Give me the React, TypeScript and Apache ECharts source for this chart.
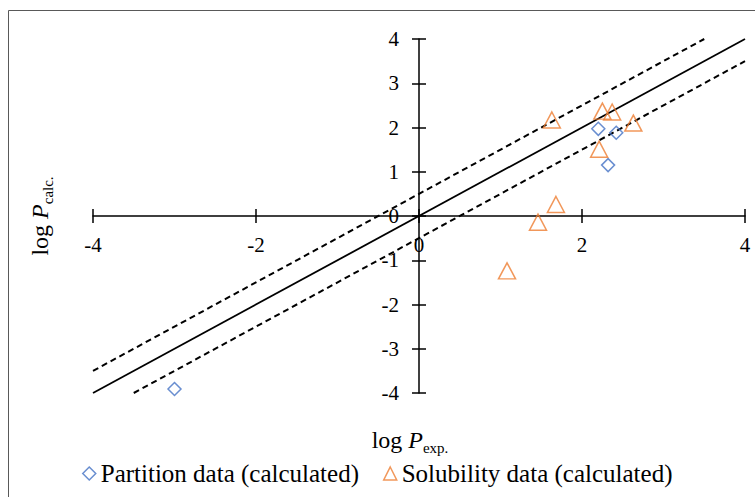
import React, { useEffect, useRef } from "react";
import * as echarts from "echarts";

// log P (exp., calc.) pairs
const partitionData: [number, number][] = [
  [-3.0, -3.91],
  [2.2, 1.97],
  [2.42, 1.88],
  [2.32, 1.15],
];
const solubilityData: [number, number][] = [
  [1.63, 2.17],
  [2.25, 2.37],
  [2.37, 2.35],
  [2.63, 2.1],
  [2.21, 1.51],
  [1.68, 0.26],
  [1.46, -0.14],
  [1.08, -1.24],
];
const identityLine: [number, number][] = [
  [-4, -4],
  [4, 4],
];
const upperLine: [number, number][] = [
  [-4, -3.5],
  [3.5, 4],
];
const lowerLine: [number, number][] = [
  [-3.5, -4],
  [4, 3.5],
];
const seriesNames = ["Partition data (calculated)", "Solubility data (calculated)"];

const FONT = "Liberation Serif";
const BLUE = "#4472C4";
const ORANGE = "#ED7D31";

// grid geometry
const GRID = { left: 93, right: 10, top: 39, bottom: 104 };
const W = 755;
const H = 497;
const plotW = W - GRID.left - GRID.right;
const plotH = H - GRID.top - GRID.bottom;
// axes cross at the origin (middle of the -4..4 ranges)
const xAxisShift = plotH / 2;
const yAxisShift = plotW / 2;

export default function App() {
  const ref = useRef<HTMLDivElement>(null);
  useEffect(() => {
    if (!ref.current) return;
    const chart = echarts.init(ref.current, undefined, { renderer: "svg" });
    const axisCommon = {
      type: "value" as const,
      min: -4,
      max: 4,
      splitLine: { show: false },
    };
    const lineStyleAxis = { color: "#000", width: 1.5 };
    const titleRich = {
      a: { fontSize: 24, fontFamily: FONT, lineHeight: 30, verticalAlign: "middle", fill: "#000" },
      b: { fontSize: 24, fontFamily: FONT, fontStyle: "italic", lineHeight: 30, verticalAlign: "middle", fill: "#000" },
      c: { fontSize: 15, fontFamily: FONT, lineHeight: 30, verticalAlign: "bottom", fill: "#000" },
    };
    chart.setOption({
      animation: false,
      backgroundColor: "#fff",
      grid: { ...GRID, containLabel: false },
      xAxis: [
        {
          ...axisCommon,
          interval: 2,
          position: "bottom",
          offset: -xAxisShift,
          axisLine: { show: true, onZero: false, lineStyle: lineStyleAxis },
          axisTick: { show: true, length: 7, lineStyle: lineStyleAxis },
          axisLabel: { color: "#000", fontSize: 21, fontFamily: FONT, margin: 18 },
        },
        {
          ...axisCommon,
          interval: 2,
          position: "top",
          offset: -xAxisShift,
          axisLine: { show: false, onZero: false },
          axisTick: { show: true, length: 7, lineStyle: lineStyleAxis },
          axisLabel: { show: false },
        },
      ],
      yAxis: [
        {
          ...axisCommon,
          interval: 1,
          position: "left",
          offset: -yAxisShift,
          axisLine: { show: true, onZero: false, lineStyle: lineStyleAxis },
          axisTick: { show: true, length: 7, lineStyle: lineStyleAxis },
          axisLabel: { color: "#000", fontSize: 21, fontFamily: FONT, margin: 20 },
        },
        {
          ...axisCommon,
          interval: 1,
          position: "right",
          offset: -yAxisShift,
          axisLine: { show: false, onZero: false },
          axisTick: { show: true, length: 7, lineStyle: lineStyleAxis },
          axisLabel: { show: false },
        },
      ],
      legend: {
        left: 82,
        top: 461,
        padding: 0,
        itemGap: 24,
        itemWidth: 13,
        itemHeight: 13,
        textStyle: { color: "#000", fontSize: 25, fontFamily: FONT },
        data: [
          {
            name: seriesNames[0],
            icon: "diamond",
            itemStyle: { color: "rgba(255,255,255,0)", borderColor: BLUE, borderWidth: 1.5 },
          },
          {
            name: seriesNames[1],
            icon: "triangle",
            itemStyle: { color: "rgba(255,255,255,0)", borderColor: ORANGE, borderWidth: 1.5 },
          },
        ],
      },
      graphic: [
        {
          type: "rect",
          shape: { x: 8.5, y: 10.5, width: 800, height: 520 },
          style: { fill: "none", stroke: "#595959", lineWidth: 1 },
          silent: true,
        },
        {
          type: "text",
          x: 410,
          y: 440,
          style: {
            text: "{a|log }{b|P}{c|exp.}",
            align: "center",
            verticalAlign: "middle",
            fill: "#000",
            rich: titleRich,
          },
        },
        {
          type: "text",
          x: 40,
          y: 216,
          rotation: Math.PI / 2,
          style: {
            text: "{a|log }{b|P}{c|calc.}",
            align: "center",
            verticalAlign: "middle",
            fill: "#000",
            rich: titleRich,
          },
        },
      ],
      series: [
        {
          name: "y = x",
          type: "line",
          data: identityLine,
          showSymbol: false,
          silent: true,
          lineStyle: { color: "#000", width: 1.8 },
          z: 1,
        },
        {
          name: "upper",
          type: "line",
          data: upperLine,
          showSymbol: false,
          silent: true,
          lineStyle: { color: "#000", width: 2, type: [6, 4] },
          z: 1,
        },
        {
          name: "lower",
          type: "line",
          data: lowerLine,
          showSymbol: false,
          silent: true,
          lineStyle: { color: "#000", width: 2, type: [6, 4] },
          z: 1,
        },
        {
          name: seriesNames[0],
          type: "scatter",
          data: partitionData,
          symbol: "diamond",
          symbolSize: 13,
          itemStyle: { color: "rgba(255,255,255,0)", borderColor: BLUE, borderWidth: 1.5 },
          z: 3,
        },
        {
          name: seriesNames[1],
          type: "scatter",
          data: solubilityData,
          symbol: "triangle",
          symbolSize: [17, 16],
          itemStyle: { color: "rgba(255,255,255,0)", borderColor: ORANGE, borderWidth: 1.5 },
          z: 3,
        },
      ],
    });
    return () => chart.dispose();
  }, []);
  return (
    <div
      ref={ref}
      style={{ position: "fixed", left: 0, top: 0, width: W, height: H }}
    />
  );
}
